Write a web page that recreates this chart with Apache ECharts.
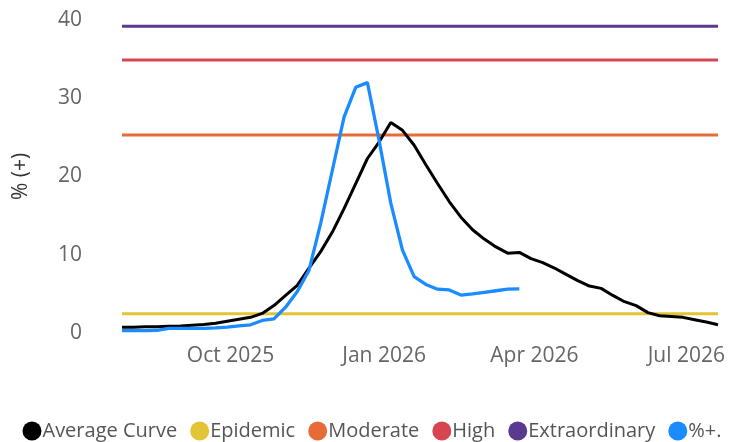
<!DOCTYPE html>
<html>
<head>
<meta charset="utf-8">
<script src="https://cdn.jsdelivr.net/npm/echarts@6/dist/echarts.min.js"></script>
<style>
html,body{margin:0;padding:0;background:#fff;}
#chart{width:744px;height:442px;}
</style>
</head>
<body>
<div id="chart"></div>
<script>
// Weekly dates (week starting), 52 weeks
const startDate = '2025-07-28';
const weekCount = 52;
// Average curve values (% positive)
const averageCurve = [0.75,0.75,0.8,0.8,0.85,0.9,1.0,1.1,1.25,1.5,1.75,2.0,2.5,3.5,4.8,6.1,8.3,10.4,12.9,15.9,19.1,22.3,24.4,26.9,25.9,24.0,21.5,19.1,16.8,14.8,13.2,12.0,11.0,10.2,10.3,9.5,9.0,8.3,7.5,6.7,6.0,5.7,4.8,4.0,3.5,2.6,2.2,2.1,2.0,1.7,1.4,1.05];
// Current season %+ values
const currentSeason = [0.3,0.3,0.3,0.35,0.6,0.6,0.6,0.6,0.65,0.75,0.9,1.05,1.6,1.8,3.3,5.3,8.0,14.0,20.8,27.6,31.4,32.0,24.6,16.6,10.6,7.2,6.2,5.6,5.5,4.85,5.0,5.2,5.4,5.6,5.65];
// Threshold levels
const epidemic = 2.45;
const moderate = 25.3;
const high = 34.9;
const extraordinary = 39.2;
// Axis tick labels
const xTickDates = ['2025-10-01','2026-01-01','2026-04-01','2026-07-01'];
const yTicks = [0,10,20,30,40];
const seriesNames = ['Average Curve','Epidemic','Moderate','High','Extraordinary','%+.'];

const MONTHS = ['Jan','Feb','Mar','Apr','May','Jun','Jul','Aug','Sep','Oct','Nov','Dec'];
function parseD(s){const p=s.split('-');return Date.UTC(+p[0],+p[1]-1,+p[2]);}
const t0 = parseD(startDate);
const dates = [];
for (let i = 0; i < weekCount; i++) dates.push(t0 + i*7*86400000);

const avgData = averageCurve.map((v,i)=>[dates[i],v]);
const curData = currentSeason.map((v,i)=>[dates[i],v]);
function flat(v){return [[dates[0],v],[dates[dates.length-1],v]];}

const font = 'Segoe UI, "Open Sans", "Noto Sans", sans-serif';
const chart = echarts.init(document.getElementById('chart'));
const lineBase = {type:'line', symbol:'none', showSymbol:false, emphasis:{disabled:true}, animation:false};
chart.setOption({
  animation:false,
  grid:{left:122,right:26,top:20,bottom:109,containLabel:false},
  legend:{
    data:seriesNames,
    top:416, left:'center',
    icon:'circle', itemWidth:19, itemHeight:19, itemGap:13,
    textStyle:{color:'#555',fontSize:20,fontFamily:font,padding:[0,0,0,-4]}
  },
  xAxis:{
    type:'value',
    min:dates[0], max:dates[dates.length-1],
    axisLine:{show:false}, axisTick:{show:false}, splitLine:{show:false},
    axisLabel:{
      customValues:xTickDates.map(parseD),
      formatter:function(v){const d=new Date(v);return MONTHS[d.getUTCMonth()]+' '+d.getUTCFullYear();},
      color:'#666', fontSize:21, fontFamily:font, margin:13
    }
  },
  yAxis:{
    type:'value', min:0, max:40, interval:10,
    name:'% (+)', nameLocation:'middle', nameGap:90, nameRotate:90,
    nameTextStyle:{color:'#333',fontSize:21,fontFamily:font},
    axisLine:{show:false}, axisTick:{show:false}, splitLine:{show:false},
    axisLabel:{color:'#666',fontSize:21,fontFamily:font,margin:40}
  },
  series:[
    Object.assign({},lineBase,{name:'Epidemic',data:flat(epidemic),itemStyle:{color:'#E2C536'},lineStyle:{width:3,color:'#E2C536'}}),
    Object.assign({},lineBase,{name:'Moderate',data:flat(moderate),itemStyle:{color:'#E66B37'},lineStyle:{width:3,color:'#E66B37'}}),
    Object.assign({},lineBase,{name:'High',data:flat(high),itemStyle:{color:'#D64550'},lineStyle:{width:3,color:'#D64550'}}),
    Object.assign({},lineBase,{name:'Extraordinary',data:flat(extraordinary),itemStyle:{color:'#5A3A8E'},lineStyle:{width:3,color:'#5A3A8E'}}),
    Object.assign({},lineBase,{name:'Average Curve',data:avgData,itemStyle:{color:'#000'},lineStyle:{width:3,color:'#000'}}),
    Object.assign({},lineBase,{name:'%+.',data:curData,itemStyle:{color:'#1A8CFF'},lineStyle:{width:3.3,color:'#1A8CFF'}})
  ]
});
</script>
</body>
</html>
